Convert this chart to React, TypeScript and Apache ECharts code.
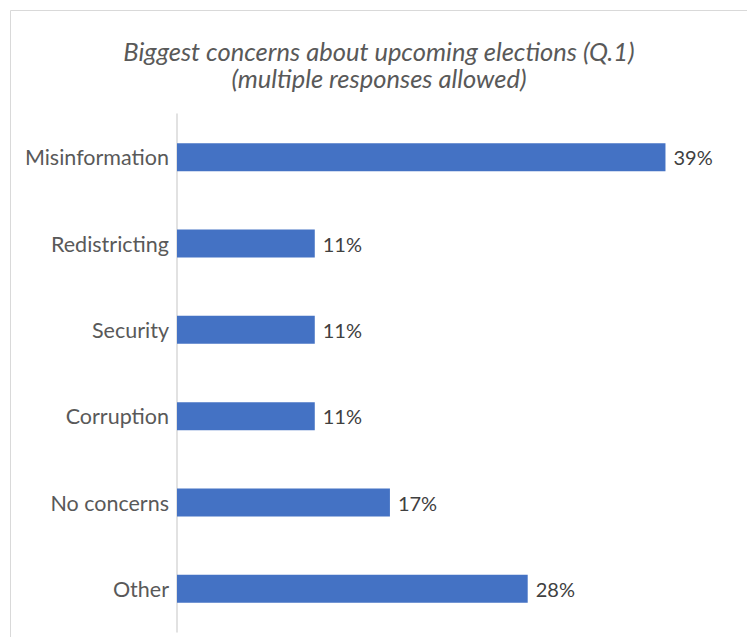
import React, { useEffect, useRef } from "react";
import * as echarts from "echarts";

const categories = ["Misinformation", "Redistricting", "Security", "Corruption", "No concerns", "Other"];
const values = [39, 11, 11, 11, 17, 28];
const titleLines = ["Biggest concerns about upcoming elections (Q.1)", "(multiple responses allowed)"];

export default function App() {
  const ref = useRef<HTMLDivElement>(null);
  useEffect(() => {
    if (!ref.current) return;
    const chart = echarts.init(ref.current, null, { renderer: "svg" });
    chart.setOption({
      animation: false,
      backgroundColor: "#ffffff",
      title: {
        text: titleLines.join("\n"),
        left: 374,
        top: 32,
        textAlign: "center",
        textStyle: {
          fontFamily: "Lato",
          fontStyle: "italic",
          fontWeight: "normal",
          fontSize: 25.5,
          lineHeight: 27,
          color: "#595959",
        },
      },
      graphic: [
        {
          type: "rect",
          shape: { x: 10.5, y: 10.5, width: 800, height: 700 },
          style: { fill: "none", stroke: "#d9d9d9", lineWidth: 1 },
          silent: true,
        },
      ],
      grid: { left: 177, top: 114, width: 501, height: 518, containLabel: false },
      xAxis: {
        type: "value",
        min: 0,
        max: 40,
        show: false,
        splitLine: { show: false },
      },
      yAxis: {
        type: "category",
        data: categories,
        inverse: true,
        axisLine: { show: true, lineStyle: { color: "#d9d9d9", width: 1.5 } },
        axisTick: { show: false },
        axisLabel: {
          margin: 8,
          fontFamily: "Lato",
          fontWeight: "normal",
          fontSize: 21.5,
          color: "#595959",
          padding: [0, 0, 5, 0],
        },
      },
      series: [
        {
          type: "bar",
          data: values,
          barWidth: 28,
          itemStyle: { color: "#4472C4" },
          label: {
            show: true,
            position: "right",
            distance: 8,
            formatter: "{c}%",
            fontFamily: "Lato",
            fontWeight: "normal",
            fontSize: 20,
            color: "#404040",
          },
        },
      ],
    });
    return () => chart.dispose();
  }, []);
  return (
    <div
      ref={ref}
      style={{ position: "fixed", left: 0, top: 0, width: 747, height: 637, background: "#fff" }}
    />
  );
}
